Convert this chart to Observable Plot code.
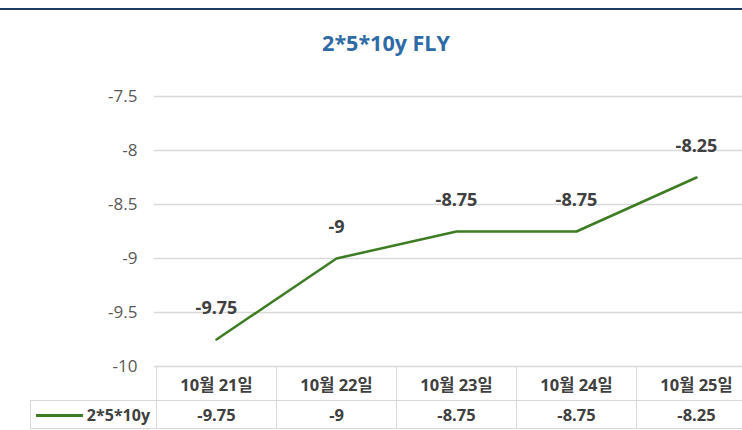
<!DOCTYPE html>
<html>
<head>
<meta charset="utf-8">
<script src="https://cdn.jsdelivr.net/npm/d3@7"></script>
<script src="https://cdn.jsdelivr.net/npm/@observablehq/plot@0.6"></script>
<style>
  html, body { margin: 0; padding: 0; background: #fff; }
  #wrap { position: relative; width: 742px; height: 430px; overflow: hidden; font-family: "Open Sans", "Noto Sans CJK KR", sans-serif; }
  #topline { position: absolute; left: 0; top: 8px; width: 742px; height: 2px; background: #1f3b64; }
  #title { position: absolute; left: 236px; width: 300px; top: 28px; text-align: center; font-size: 21.5px; font-weight: bold; color: #2e6aa6; line-height: 30px; }
  #plot { position: absolute; left: 0; top: 0; }
  #plot svg { max-width: none !important; }
  #tbl { position: absolute; border-collapse: collapse; table-layout: fixed; font-weight: bold; color: #404040; font-size: 16.5px; }
  #tbl td { border: 1.5px solid #d9d9d9; text-align: center; padding: 0; white-space: nowrap; }
  #tbl td.blank { border: none; }
  #tbl td.cat { font-size: 16.5px; }
</style>
</head>
<body>
<div id="wrap">
  <div id="topline"></div>
  <div id="title"></div>
  <div id="plot"></div>
  <table id="tbl"></table>
</div>
<script>
const chartTitle = "2*5*10y FLY";
const seriesName = "2*5*10y";
const categories = ["10월 21일", "10월 22일", "10월 23일", "10월 24일", "10월 25일"];
const values = [-9.75, -9, -8.75, -8.75, -8.25];
const yTicks = [-10, -9.5, -9, -8.5, -8, -7.5];
const valueLabels = ["-9.75", "-9", "-8.75", "-8.75", "-8.25"];

const data = categories.map((c, i) => ({cat: c, value: values[i], label: valueLabels[i]}));

document.getElementById("title").textContent = chartTitle;

const W = 757;
const chart = Plot.plot({
  width: W,
  height: 374,
  marginTop: 96,
  marginBottom: 8,
  marginLeft: 154,
  marginRight: 0,
  x: {type: "point", domain: categories, padding: 0.5, axis: null},
  y: {domain: [-10, -7.5], label: null},
  style: {fontFamily: "'Open Sans', 'Noto Sans CJK KR', sans-serif", overflow: "visible", background: "transparent", maxWidth: "none"},
  marks: [
    Plot.gridY(yTicks, {stroke: "#d9d9d9", strokeOpacity: 1, strokeWidth: 1.5}),
    Plot.axisY(yTicks, {tickSize: 0, tickPadding: 17, tickFormat: d => String(d), fontSize: 17, fill: "#595959", label: null}),
    Plot.line(data, {x: "cat", y: "value", stroke: "#3d7c23", strokeWidth: 2.5}),
    Plot.text(data, {x: "cat", y: "value", text: "label", dy: -31, fontSize: 18, fontWeight: "bold", fill: "#404040"})
  ]
});
chart.style.maxWidth = "none";
document.getElementById("plot").appendChild(chart);

// Build the data table aligned to the x scale
const xs = chart.scale("x");
const step = xs.step !== undefined ? xs.step : (xs.apply(categories[1]) - xs.apply(categories[0]));
const firstLeft = xs.apply(categories[0]) - step / 2;
const ys = chart.scale("y");
const tableTop = ys.apply(-10);
const legendLeft = 30;

const tbl = document.getElementById("tbl");
tbl.style.left = legendLeft + "px";
tbl.style.top = tableTop + "px";
tbl.style.width = (firstLeft - legendLeft + step * categories.length) + "px";

const colgroup = document.createElement("colgroup");
const c0 = document.createElement("col");
c0.style.width = (firstLeft - legendLeft) + "px";
colgroup.appendChild(c0);
categories.forEach(() => {
  const c = document.createElement("col");
  c.style.width = step + "px";
  colgroup.appendChild(c);
});
tbl.appendChild(colgroup);

const r1 = document.createElement("tr");
r1.style.height = "34px";
const blank = document.createElement("td");
blank.className = "blank";
r1.appendChild(blank);
categories.forEach(c => {
  const td = document.createElement("td");
  td.className = "cat";
  td.textContent = c;
  r1.appendChild(td);
});
tbl.appendChild(r1);

const r2 = document.createElement("tr");
r2.style.height = "28px";
const leg = document.createElement("td");
leg.style.textAlign = "right";
leg.style.paddingRight = "6px";
leg.innerHTML = '<span style="display:inline-block;width:47px;height:3px;background:#3d7c23;vertical-align:middle;margin-right:4px;position:relative;top:-1px"></span><span></span>';
leg.lastChild.textContent = seriesName;
leg.style.fontSize = "16px";
r2.appendChild(leg);
valueLabels.forEach(v => {
  const td = document.createElement("td");
  td.textContent = v;
  r2.appendChild(td);
});
tbl.appendChild(r2);
</script>
</body>
</html>
